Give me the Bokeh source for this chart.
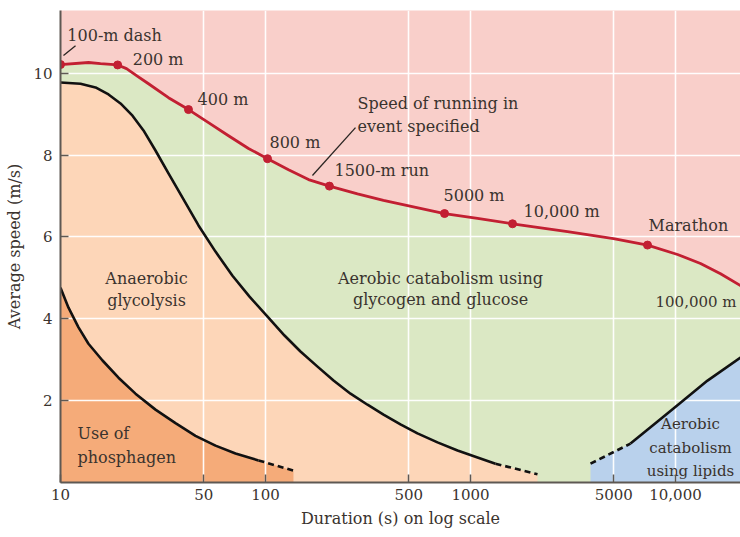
from bokeh.plotting import figure
from bokeh.models import FixedTicker, Range1d
from bokeh.core.properties import value
from bokeh.embed import file_html
from bokeh.resources import INLINE

# ---------------- data ----------------
# Speed of running in event (red curve)
run_t = [10, 13.7, 15.67, 19.0, 20.99, 23.49, 26.87, 33.63, 42.1, 52.7, 66.0,
         82.6, 102.3, 129.5, 162.1, 205, 281, 376, 747, 1082, 1603, 2972,
         4984, 7301, 10229, 13240, 16580, 20750, 22000]
run_v = [10.21, 10.26, 10.23, 10.2, 10.11, 9.94, 9.74, 9.40, 9.11, 8.79, 8.47,
         8.16, 7.91, 7.64, 7.40, 7.24, 7.05, 6.89, 6.57, 6.45, 6.32, 6.13,
         5.96, 5.80, 5.57, 5.35, 5.10, 4.81, 4.74]

# Event markers
event_names = ["100-m dash", "200 m", "400 m", "800 m", "1500-m run",
               "5000 m", "10,000 m", "Marathon"]
event_t = [10, 19.0, 42.1, 102.3, 205, 747, 1603, 7301]
event_v = [10.21, 10.2, 9.11, 7.91, 7.24, 6.57, 6.32, 5.80]

# Anaerobic glycolysis upper boundary
gly_t = [10, 12.52, 14.82, 17.15, 19.62, 22.45, 25.40, 29.06, 33.63, 39.37,
         47.12, 57.03, 69.02, 83.56, 102.3, 123.8, 148.1, 179.4, 214.7, 259.8,
         314.5, 376.4, 455.4, 551.3, 690.2, 864.4, 1082, 1324]
gly_v = [9.77, 9.74, 9.65, 9.48, 9.26, 8.96, 8.60, 8.11, 7.55, 6.96,
         6.28, 5.64, 5.05, 4.54, 4.05, 3.59, 3.20, 2.83, 2.49, 2.17,
         1.90, 1.66, 1.42, 1.20, 0.98, 0.78, 0.61, 0.46]
gly_dash_t = [1324, 2122]
gly_dash_v = [0.46, 0.20]

# Phosphagen upper boundary
pho_t = [10, 10.94, 12.24, 13.69, 16.03, 19.18, 23.22, 29.06, 36.39, 45.55,
         57.03, 71.4, 92.45]
pho_v = [4.76, 4.27, 3.79, 3.39, 2.98, 2.56, 2.17, 1.78, 1.45, 1.14,
         0.90, 0.71, 0.54]
pho_dash_t = [92.45, 136.9]
pho_dash_v = [0.54, 0.29]

# Lipid upper boundary
lip_dash_t = [3849, 6032]
lip_dash_v = [0.46, 0.95]
lip_t = [6032, 8174, 10579, 14330, 20750, 22000]
lip_v = [0.95, 1.49, 1.95, 2.49, 3.05, 3.14]

# Axes
x_ticks = [10, 50, 100, 500, 1000, 5000, 10000]
x_tick_labels = ["10", "50", "100", "500", "1000", "5000", "10,000"]
x_grid = [50, 100, 500, 1000, 5000, 10000]
y_ticks = [2, 4, 6, 8, 10]

# ---------------- styles ----------------
PINK = "#f9cfca"
GREEN = "#dbe8c4"
LORANGE = "#fdd6b8"
DORANGE = "#f5ab79"
BLUE = "#b9d1ec"
RED = "#c21f32"
INK = "#3a332e"
FONT = value("DejaVu Serif")
FS = "16px"

p = figure(width=740, height=537, x_axis_type="log",
           x_range=Range1d(10, 20750), y_range=Range1d(0, 11.53),
           output_backend="svg", toolbar_location=None,
           min_border_left=60, min_border_right=0, min_border_top=10,
           min_border_bottom=55)
p.background_fill_color = PINK
p.border_fill_color = "white"
p.outline_line_color = None

# ---------------- filled regions ----------------
def area(xs, ys, color):
    r = p.varea(x=xs, y1=[0] * len(xs), y2=ys, fill_color=color, fill_alpha=1)
    r.level = "image"
    return r

area(run_t, run_v, GREEN)
area(gly_t + gly_dash_t[1:], gly_v + gly_dash_v[1:], LORANGE)
area(pho_t + pho_dash_t[1:], pho_v + pho_dash_v[1:], DORANGE)
area(lip_dash_t + lip_t[1:], lip_dash_v + lip_v[1:], BLUE)

# ---------------- curves ----------------
BLK = dict(line_color="#111111", line_width=2.6, line_join="round")
p.line(gly_t, gly_v, **BLK)
p.line(gly_dash_t, gly_dash_v, line_dash="6 4", **BLK)
p.line(pho_t, pho_v, **BLK)
p.line(pho_dash_t, pho_dash_v, line_dash="6 4", **BLK)
p.line(lip_t, lip_v, **BLK)
p.line(lip_dash_t, lip_dash_v, line_dash="6 4", **BLK)

p.line(run_t, run_v, line_color=RED, line_width=2.8, line_join="round")
p.scatter(event_t, event_v, size=8, fill_color=RED, line_color=RED)

# leader lines
p.segment(x0=[10.34, 169.4], y0=[10.43, 7.50], x1=[11.84, 274.8], y1=[10.67, 8.67],
          line_color="#2a2522", line_width=1.3)

# ---------------- labels ----------------
lab_t = [10.8, 22.5, 46.6, 104.6, 217, 738.5, 1814, 7385]
lab_v = [10.92, 10.33, 9.35, 8.30, 7.62, 7.01, 6.62, 6.28]
p.text(x=lab_t, y=lab_v, text=event_names, text_font=FONT, text_font_size=FS,
       text_color=INK, text_baseline="middle", text_align="left")

p.text(x=[281, 281, 12.1, 12.1], y=[9.26, 8.69, 1.20, 0.61],
       text=["Speed of running in", "event specified", "Use of", "phosphagen"],
       text_font=FONT, text_font_size=FS, text_color=INK,
       text_baseline="middle", text_align="left")

p.text(x=[7990], y=[4.40], text=["100,000 m"],
       text_font=FONT, text_font_size="15px", text_color=INK,
       text_baseline="middle", text_align="left")

p.text(x=[26.3, 26.3, 714, 714],
       y=[4.98, 4.44, 4.98, 4.47],
       text=["Anaerobic", "glycolysis", "Aerobic catabolism using",
             "glycogen and glucose"],
       text_font=FONT, text_font_size=FS, text_color=INK,
       text_baseline="middle", text_align="center")

p.text(x=[11830, 11830, 11830], y=[1.44, 0.85, 0.29],
       text=["Aerobic", "catabolism", "using lipids"],
       text_font=FONT, text_font_size="15px", text_color=INK,
       text_baseline="middle", text_align="center")

# ---------------- axes & grid ----------------
p.xaxis.ticker = FixedTicker(ticks=x_ticks)
p.xaxis.major_label_overrides = {t: l for t, l in zip(x_ticks, x_tick_labels)}
p.yaxis.ticker = FixedTicker(ticks=y_ticks)
p.xgrid.ticker = FixedTicker(ticks=x_grid)
p.ygrid.ticker = FixedTicker(ticks=y_ticks)
for g in (p.xgrid, p.ygrid):
    g.grid_line_color = "white"
    g.grid_line_width = 1.6
    g.grid_line_alpha = 0.95

for ax in (p.xaxis, p.yaxis):
    ax.axis_line_color = "#5e5853"
    ax.axis_line_width = 2
    ax.major_tick_line_color = "#5e5853"
    ax.major_tick_line_width = 1.5
    ax.major_tick_in = 8
    ax.major_tick_out = 0
    ax.minor_tick_line_color = None
    ax.major_label_text_font = "DejaVu Serif"
    ax.major_label_text_font_size = "15px"
    ax.major_label_text_color = INK
    ax.axis_label_text_font = "DejaVu Serif"
    ax.axis_label_text_font_size = "16px"
    ax.axis_label_text_font_style = "normal"
    ax.axis_label_text_color = INK

p.xaxis.axis_label = "Duration (s) on log scale"
p.yaxis.axis_label = "Average speed (m/s)"
p.xaxis.major_label_standoff = 6
p.xaxis.axis_label_standoff = 6
p.yaxis.major_label_standoff = 8
p.yaxis.axis_label_standoff = 6

open("out.html", "w").write(file_html(p, INLINE))
